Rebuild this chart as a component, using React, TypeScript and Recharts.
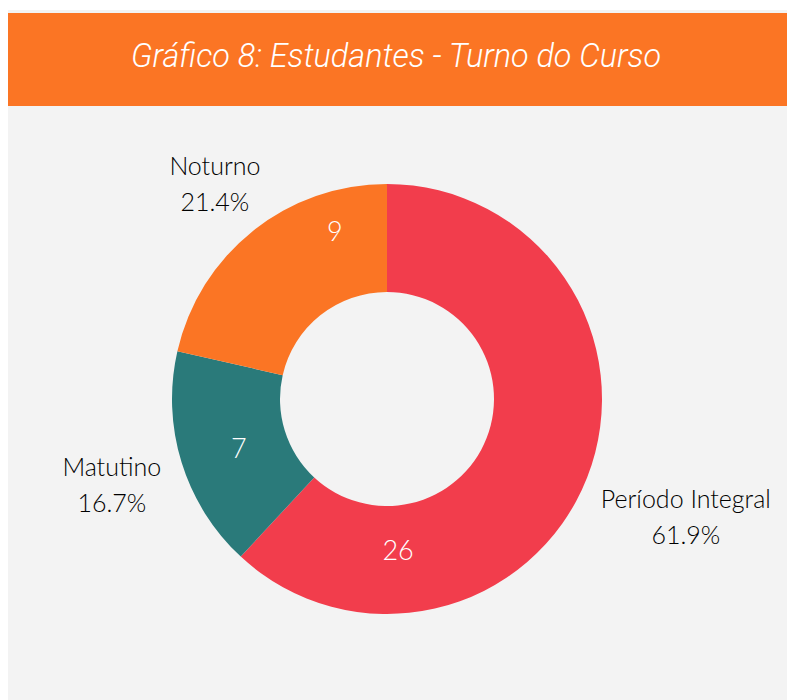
import React from "react";
import { PieChart, Pie, Cell } from "recharts";

const categories = ["Período Integral", "Matutino", "Noturno"];
const counts = [26, 7, 9];
const percents = ["61.9%", "16.7%", "21.4%"];
const colors = ["#f23d4c", "#2a7a7a", "#fb7524"];

// label placement (Tableau-style, not at slice middle for every slice)
const innerAngle = [-85.8, 198.3, 107.2];
const innerRadius = [151, 156, 176];
const outerDist = [106, 73, 61];

const data = categories.map((name, i) => ({ name, value: counts[i] }));

const RAD = Math.PI / 180;
const FONT = "Lato, 'Open Sans', sans-serif";

function renderLabel(props: any) {
  const { cx, cy, midAngle, outerRadius, index } = props;
  const a = innerAngle[index];
  const r = innerRadius[index];
  const ix = cx + r * Math.cos(a * RAD);
  const iy = cy - r * Math.sin(a * RAD);
  const ro = outerRadius + outerDist[index];
  const ox = cx + ro * Math.cos(midAngle * RAD);
  const oy = cy - ro * Math.sin(midAngle * RAD);
  return (
    <g>
      <text x={ix} y={iy} fill="#ffffff" fontSize={27} fontWeight={300} fontFamily={FONT} textAnchor="middle" dominantBaseline="central">
        {counts[index]}
      </text>
      <text x={ox} y={oy - 18} fill="#000000" fontSize={25} fontWeight={300} fontFamily={FONT} textAnchor="middle" dominantBaseline="central">
        {categories[index]}
      </text>
      <text x={ox} y={oy + 18} fill="#000000" fontSize={25} fontWeight={300} fontFamily={FONT} textAnchor="middle" dominantBaseline="central">
        {percents[index]}
      </text>
    </g>
  );
}

export default function App() {
  return (
    <div style={{ position: "absolute", left: 8, top: 10, width: 779, height: 690, background: "#f3f3f3", overflow: "hidden" }}>
      <div style={{ height: 3 }} />
      <div style={{ height: 93, background: "#fb7524" }}>
        <svg width={779} height={93}>
          <text
            x={396 - 8}
            y={54}
            fill="#ffffff"
            fontSize={34}
            fontStyle="italic"
            fontWeight={300}
            fontFamily="Roboto, sans-serif"
            textAnchor="middle"
            textLength={530}
            lengthAdjust="spacingAndGlyphs"
          >
            Gráfico 8: Estudantes - Turno do Curso
          </text>
        </svg>
      </div>
      <PieChart width={779} height={594}>
        <Pie
          data={data}
          dataKey="value"
          nameKey="name"
          cx={374}
          cy={288}
          innerRadius={107}
          outerRadius={215}
          startAngle={90}
          endAngle={-270}
          stroke="none"
          labelLine={false}
          label={renderLabel}
          isAnimationActive={false}
        >
          {data.map((d, i) => (
            <Cell key={d.name} fill={colors[i]} />
          ))}
        </Pie>
      </PieChart>
    </div>
  );
}
